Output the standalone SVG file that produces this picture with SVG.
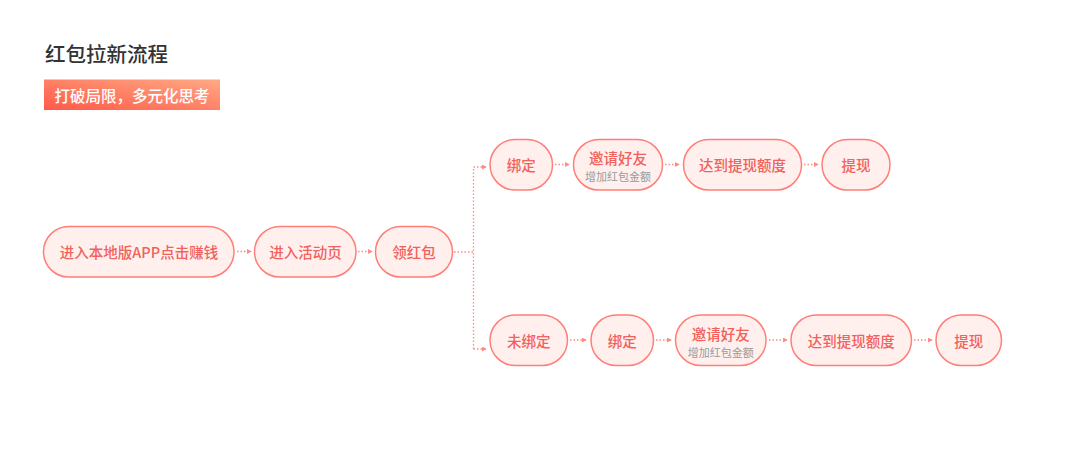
<svg xmlns="http://www.w3.org/2000/svg" width="1080" height="474" viewBox="0 0 1080 474">
<defs>
<linearGradient id="bannerGrad" x1="0" y1="1" x2="1" y2="0">
<stop offset="0" stop-color="#ff5a48"/>
<stop offset="1" stop-color="#ffa985"/>
</linearGradient>
<marker id="arr" viewBox="0 0 6 6" refX="5" refY="3" markerWidth="5" markerHeight="5" orient="auto" markerUnits="userSpaceOnUse">
<path d="M0,0 L6,3 L0,6 Z" fill="#ff8a80"/>
</marker>
<style>
.node rect{fill:#fff0ee;stroke:#ff7f78;stroke-width:1.5}
.lbl{font-family:"Noto Sans CJK SC","Noto Sans",sans-serif;font-size:14.5px;font-weight:500;fill:#f2615b;text-anchor:middle;dominant-baseline:central}
.sub{font-family:"Noto Sans CJK SC","Noto Sans",sans-serif;font-size:11px;fill:#9a9a9a;text-anchor:middle;dominant-baseline:central}
.conn{fill:none;stroke:#ff8a80;stroke-width:1.3;stroke-dasharray:1.5 2}
</style>
</defs>
<rect width="1080" height="474" fill="#ffffff"/>
<text x="45" y="62" font-family="'Noto Sans CJK SC','Noto Sans',sans-serif" font-size="20.5" font-weight="500" fill="#333333">红包拉新流程</text>
<g id="banner">
<rect x="44" y="79.5" width="176" height="30.5" fill="url(#bannerGrad)"/>
<text x="132" y="95" font-family="'Noto Sans CJK SC','Noto Sans',sans-serif" font-size="15.5" font-weight="500" fill="#ffffff" text-anchor="middle" dominant-baseline="central">打破局限，多元化思考</text>
</g>
<g id="connectors">
<path class="conn" d="M237,251.5 H251" marker-end="url(#arr)"/>
<path class="conn" d="M358,251.5 H372" marker-end="url(#arr)"/>
<path class="conn" d="M454,252 H473.5"/>
<path class="conn" d="M473.5,349 V167"/>
<path class="conn" d="M473.5,167 H486" marker-end="url(#arr)"/>
<path class="conn" d="M473.5,349 H486" marker-end="url(#arr)"/>
<path class="conn" d="M555,164.5 H569" marker-end="url(#arr)"/>
<path class="conn" d="M665,164.5 H679" marker-end="url(#arr)"/>
<path class="conn" d="M804,164.5 H818" marker-end="url(#arr)"/>
<path class="conn" d="M570,340 H586" marker-end="url(#arr)"/>
<path class="conn" d="M656,340 H671" marker-end="url(#arr)"/>
<path class="conn" d="M769,340 H787" marker-end="url(#arr)"/>
<path class="conn" d="M914,340 H932" marker-end="url(#arr)"/>
</g>
<g id="n1" class="node"><rect x="43.5" y="226.5" width="190.5" height="50.5" rx="25.25"/><text class="lbl" x="139" y="251.5">进入本地版APP点击赚钱</text></g>
<g id="n2" class="node"><rect x="254.5" y="226.5" width="101.5" height="50.5" rx="25.25"/><text class="lbl" x="305.5" y="251.5">进入活动页</text></g>
<g id="n3" class="node"><rect x="375.5" y="226.5" width="77" height="50.5" rx="25.25"/><text class="lbl" x="414" y="251.5">领红包</text></g>
<g id="t1" class="node"><rect x="490" y="139.5" width="62.5" height="50.5" rx="25.25"/><text class="lbl" x="521.2" y="164.5">绑定</text></g>
<g id="t2" class="node"><rect x="573.5" y="139.5" width="89" height="50.5" rx="25.25"/><text class="lbl" x="618" y="157.5">邀请好友</text><text class="sub" x="618" y="176">增加红包金额</text></g>
<g id="t3" class="node"><rect x="683.5" y="139.5" width="118" height="50.5" rx="25.25"/><text class="lbl" x="742.5" y="164.5">达到提现额度</text></g>
<g id="t4" class="node"><rect x="822" y="139.5" width="68" height="50.5" rx="25.25"/><text class="lbl" x="856" y="164.5">提现</text></g>
<g id="b1" class="node"><rect x="490" y="315" width="77.5" height="50.5" rx="25.25"/><text class="lbl" x="528.7" y="340">未绑定</text></g>
<g id="b2" class="node"><rect x="591" y="315" width="62.5" height="50.5" rx="25.25"/><text class="lbl" x="622.2" y="340">绑定</text></g>
<g id="b3" class="node"><rect x="675.5" y="315" width="90.5" height="50.5" rx="25.25"/><text class="lbl" x="720.7" y="333">邀请好友</text><text class="sub" x="720.7" y="351.5">增加红包金额</text></g>
<g id="b4" class="node"><rect x="791" y="315" width="120.5" height="50.5" rx="25.25"/><text class="lbl" x="851.2" y="340">达到提现额度</text></g>
<g id="b5" class="node"><rect x="936" y="315" width="65.5" height="50.5" rx="25.25"/><text class="lbl" x="968.7" y="340">提现</text></g>
</svg>
